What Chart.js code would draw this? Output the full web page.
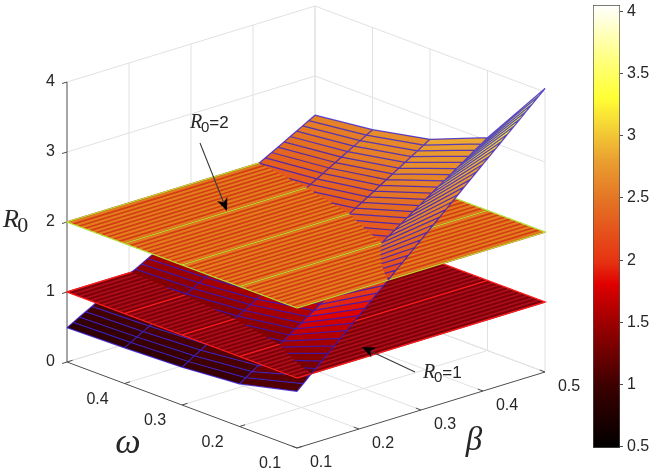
<!DOCTYPE html>
<html>
<head>
<meta charset="utf-8">
<script src="https://cdn.jsdelivr.net/npm/chart.js@4.4.1/dist/chart.umd.min.js"></script>
<style>
  html, body { margin: 0; padding: 0; background: #fff; }
  #wrap { position: relative; width: 651px; height: 474px; }
  #surf { position: absolute; left: 0; top: 0; }
  #cbar { position: absolute; left: 585px; top: 0; }
</style>
</head>
<body>
<div id="wrap">
  <canvas id="surf" width="651" height="474"></canvas>
  <canvas id="cbar" width="66" height="474"></canvas>
</div>
<script>
// grid of the surface
const omegaValues = [0.1, 0.2, 0.3, 0.4, 0.5];
const betaValues = [0.1, 0.2, 0.3, 0.4, 0.5];
// R0 along beta, one row per omega
const r0AtOmega01 = [0.81, 1.62, 2.43, 3.24, 4.05];
const r0AtOmega02 = [0.61, 1.21, 1.82, 2.43, 3.04];
const r0AtOmega03 = [0.54, 1.08, 1.62, 2.16, 2.71];
const r0AtOmega04 = [0.51, 1.01, 1.52, 2.03, 2.54];
const r0AtOmega05 = [0.49, 0.98, 1.46, 1.95, 2.44];
const r0Rows = [r0AtOmega01, r0AtOmega02, r0AtOmega03, r0AtOmega04, r0AtOmega05];

// the two flat reference planes
const planeLevels = [1, 2];

// axes
const zTicks = [0, 1, 2, 3, 4];
const zTickLabels = ['0', '1', '2', '3', '4'];
const omegaTicks = [0.1, 0.2, 0.3, 0.4, 0.5];
const omegaTickLabels = ['0.1', '0.2', '0.3', '0.4', ''];
const betaTicks = [0.1, 0.2, 0.3, 0.4, 0.5];
const betaTickLabels = ['0.1', '0.2', '0.3', '0.4', '0.5'];
const colorbarTicks = [0.5, 1, 1.5, 2, 2.5, 3, 3.5, 4];
const colorbarLabels = ['0.5', '1', '1.5', '2', '2.5', '3', '3.5', '4'];

const cMin = Math.min(...r0Rows.flat());
const cMax = Math.max(...r0Rows.flat());
const omegaMin = omegaValues[0], omegaMax = omegaValues[omegaValues.length - 1];
const betaMin = betaValues[0], betaMax = betaValues[betaValues.length - 1];
const zTop = zTicks[zTicks.length - 1];

const SANS = '"Liberation Sans", Arial, Helvetica, sans-serif';
const SERIF = '"Liberation Serif", "Times New Roman", serif';
const TEXT = '#262626';

// hot-like colormap (fraction, colour)
const hotStops = [
  [0, '#000000'], [0.14, '#3c0000'], [0.28, '#9c0000'], [0.37, '#e00000'],
  [0.42, '#e63212'], [0.56, '#e47424'], [0.65, '#eaa030'], [0.73, '#f6d636'],
  [0.79, '#ffff34'], [0.87, '#ffff78'], [1, '#ffffff']
];
const hexRgb = h => [1, 3, 5].map(k => parseInt(h.substr(k, 2), 16));
function hotColor(v) {
  const t = Math.min(1, Math.max(0, (v - cMin) / (cMax - cMin)));
  for (let k = 1; k < hotStops.length; k++) {
    if (t <= hotStops[k][0]) {
      const [t0, c0] = hotStops[k - 1], [t1, c1] = hotStops[k];
      const f = (t - t0) / (t1 - t0);
      const a = hexRgb(c0), b = hexRgb(c1);
      return 'rgb(' + a.map((x, n) => Math.round(x + (b[n] - x) * f)).join(',') + ')';
    }
  }
  return hotStops[hotStops.length - 1][1];
}
// the lit surface reads a little brighter than the bar in its middle range
const surfaceColor = z => hotColor(z + 0.35 * Math.min(1, Math.max(0, 2.8 - z)));

// oblique 3D view: omega runs to the lower right, beta to the upper right
const view = { ox: 297, oy: 448, wx: -575, wy: -215, bx: 620, by: -190, zy: -70 };
function project(p) {
  return {
    x: view.ox + (p.w - omegaMin) * view.wx + (p.b - betaMin) * view.bx,
    y: view.oy + (p.w - omegaMin) * view.wy + (p.b - betaMin) * view.by + p.z * view.zy
  };
}

function r0At(i, b) {
  const row = r0Rows[i];
  for (let j = 0; j < betaValues.length - 1; j++) {
    const b0 = betaValues[j], b1 = betaValues[j + 1];
    if (b <= b1 + 1e-9) return row[j] + (row[j + 1] - row[j]) * (b - b0) / (b1 - b0);
  }
  return row[row.length - 1];
}

// mesh lines drawn inside every cell
const MESH_SUB = 10;
function refine(vals) {
  const out = [];
  for (let j = 0; j < vals.length - 1; j++)
    for (let s = 0; s < MESH_SUB; s++) out.push(vals[j] + (vals[j + 1] - vals[j]) * s / MESH_SUB);
  out.push(vals[vals.length - 1]);
  return out;
}
const fineBeta = refine(betaValues);
const fineOmega = refine(omegaValues);

const lerp3 = (a, b, t) => ({ w: a.w + (b.w - a.w) * t, b: a.b + (b.b - a.b) * t, z: a.z + (b.z - a.z) * t });

function clipPoly(poly, lo, hi) {
  const cut = (pts, keep, level) => {
    const out = [];
    for (let k = 0; k < pts.length; k++) {
      const a = pts[k], b = pts[(k + 1) % pts.length];
      const ia = keep(a.z), ib = keep(b.z);
      if (ia) out.push(a);
      if (ia !== ib) out.push(lerp3(a, b, (level - a.z) / (b.z - a.z)));
    }
    return out;
  };
  let pts = poly;
  if (lo > -Infinity) pts = cut(pts, z => z >= lo, lo);
  if (pts.length && hi < Infinity) pts = cut(pts, z => z < hi, hi);
  return pts;
}

function clipSeg(a, b, lo, hi) {
  let t0 = 0, t1 = 1;
  const dz = b.z - a.z;
  if (Math.abs(dz) < 1e-12) {
    if (a.z < lo || a.z >= hi) return null;
  } else {
    let ta = (lo - a.z) / dz, tb = (hi - a.z) / dz;
    if (ta > tb) [ta, tb] = [tb, ta];
    t0 = Math.max(t0, ta); t1 = Math.min(t1, tb);
    if (!(t1 > t0)) return null;
  }
  return [lerp3(a, b, t0), lerp3(a, b, t1)];
}

// datasets in drawing order (first = bottom)
const layers = [];
function addPoly(pts3, color) {
  layers.push({ data: pts3.map(project), fill: 'shape', backgroundColor: color, borderWidth: 0 });
}
function addLines(paths, color, width) {
  const data = [];
  paths.forEach(path => {
    path.forEach(p => data.push(project(p)));
    data.push({ x: null, y: null });
  });
  layers.push({ data, fill: false, borderColor: color, borderWidth: width });
}

// box grid on floor and back walls
const gridPaths = [];
betaTicks.slice(1).forEach(b => {
  gridPaths.push([{ w: omegaMin, b, z: 0 }, { w: omegaMax, b, z: 0 }]);
  gridPaths.push([{ w: omegaMax, b, z: 0 }, { w: omegaMax, b, z: zTop }]);
});
omegaTicks.forEach(w => {
  if (w !== omegaMin) gridPaths.push([{ w, b: betaMin, z: 0 }, { w, b: betaMax, z: 0 }]);
  gridPaths.push([{ w, b: betaMax, z: 0 }, { w, b: betaMax, z: zTop }]);
});
zTicks.forEach(z => {
  gridPaths.push([{ w: omegaMax, b: betaMin, z }, { w: omegaMax, b: betaMax, z }, { w: omegaMin, b: betaMax, z }]);
});
addLines(gridPaths, '#e1e1e1', 1);

// axis lines and tick marks
const axisPaths = [
  [{ w: omegaMax, b: betaMin, z: 0 }, { w: omegaMax, b: betaMin, z: zTop }],
  [{ w: omegaMax, b: betaMin, z: 0 }, { w: omegaMin, b: betaMin, z: 0 }, { w: omegaMin, b: betaMax, z: 0 }]
];
zTicks.forEach(z => axisPaths.push([{ w: omegaMax, b: betaMin, z }, { w: omegaMax, b: betaMin - 0.008, z }]));
omegaTicks.forEach(w => axisPaths.push([{ w, b: betaMin, z: 0 }, { w, b: betaMin + 0.009, z: 0 }]));
betaTicks.forEach(b => axisPaths.push([{ w: omegaMin, b, z: 0 }, { w: omegaMin + 0.009, b, z: 0 }]));
addLines(axisPaths, '#4d4d4d', 1);

const planeStyles = [
  { face: '#7e0008', stripe: 'rgba(178,16,30,0.9)', edge: '#ff1e1e' },
  { face: '#e47c1e', stripe: 'rgba(208,54,18,0.9)', edge: '#b6e23a' }
];
function addPlane(level, style) {
  const corners = [
    { w: omegaMin, b: betaMin, z: level }, { w: omegaMax, b: betaMin, z: level },
    { w: omegaMax, b: betaMax, z: level }, { w: omegaMin, b: betaMax, z: level }
  ];
  addPoly(corners, style.face);
  addLines(fineOmega.map(w => [{ w, b: betaMin, z: level }, { w, b: betaMax, z: level }]), style.stripe, 1.7);
  addLines(omegaValues.slice(1, -1).map(w => [{ w, b: betaMin, z: level }, { w, b: betaMax, z: level }]), style.edge, 1.3);
  addLines([corners.concat([corners[0]])], style.edge, 1.3);
}

// surface split into height bands so the planes cover what lies below them
const bandEdges = [-Infinity, ...planeLevels, Infinity];
for (let k = 0; k < bandEdges.length - 1; k++) {
  const lo = bandEdges[k], hi = bandEdges[k + 1];
  for (let i = omegaValues.length - 2; i >= 0; i--) {
    for (let s = fineBeta.length - 2; s >= 0; s--) {
      const b0 = fineBeta[s], b1 = fineBeta[s + 1];
      const quad = [
        { w: omegaValues[i], b: b0, z: r0At(i, b0) },
        { w: omegaValues[i + 1], b: b0, z: r0At(i + 1, b0) },
        { w: omegaValues[i + 1], b: b1, z: r0At(i + 1, b1) },
        { w: omegaValues[i], b: b1, z: r0At(i, b1) }
      ];
      const zMean = quad.reduce((a, p) => a + p.z, 0) / 4;
      const part = clipPoly(quad, lo, hi);
      if (part.length >= 3) addPoly(part, surfaceColor(zMean));
    }
  }
  const segs = [];
  fineBeta.forEach(b => {
    for (let i = 0; i < omegaValues.length - 1; i++) {
      const seg = clipSeg({ w: omegaValues[i], b, z: r0At(i, b) }, { w: omegaValues[i + 1], b, z: r0At(i + 1, b) }, lo, hi);
      if (seg) segs.push(seg);
    }
  });
  omegaValues.forEach((w, i) => {
    for (let s = 0; s < fineBeta.length - 1; s++) {
      const b0 = fineBeta[s], b1 = fineBeta[s + 1];
      const seg = clipSeg({ w, b: b0, z: r0At(i, b0) }, { w, b: b1, z: r0At(i, b1) }, lo, hi);
      if (seg) segs.push(seg);
    }
  });
  addLines(segs, 'rgba(48,26,204,0.78)', 1.25);
  if (k < planeLevels.length) addPlane(planeLevels[k], planeStyles[k]);
}

function drawR0(ctx, x, y, size, subSize, subFont, tail, tailSize) {
  ctx.textAlign = 'left';
  ctx.textBaseline = 'alphabetic';
  ctx.font = 'italic ' + size + 'px ' + SERIF;
  ctx.fillText('R', x, y);
  let cx = x + ctx.measureText('R').width - size * 0.06;
  ctx.font = subSize + 'px ' + subFont;
  ctx.fillText('0', cx, y + size * 0.2);
  cx += ctx.measureText('0').width;
  if (tail) {
    ctx.font = tailSize + 'px ' + SANS;
    ctx.fillText(tail, cx, y);
  }
}

function drawArrow(ctx, x0, y0, x1, y1) {
  const ang = Math.atan2(y1 - y0, x1 - x0);
  const L = 13, W = 5.5, c = Math.cos(ang), s = Math.sin(ang);
  ctx.strokeStyle = '#3a3a3a';
  ctx.lineWidth = 1.1;
  ctx.beginPath();
  ctx.moveTo(x0, y0);
  ctx.lineTo(x1 - L * 0.7 * c, y1 - L * 0.7 * s);
  ctx.stroke();
  ctx.fillStyle = '#000';
  ctx.beginPath();
  ctx.moveTo(x1, y1);
  ctx.lineTo(x1 - L * c - W * s, y1 - L * s + W * c);
  ctx.lineTo(x1 - L * 0.7 * c, y1 - L * 0.7 * s);
  ctx.lineTo(x1 - L * c + W * s, y1 - L * s - W * c);
  ctx.closePath();
  ctx.fill();
}

const labels3d = {
  id: 'labels3d',
  afterDatasetsDraw(chart) {
    const { ctx } = chart;
    const xs = chart.scales.x, ys = chart.scales.y;
    const pix = p => { const q = project(p); return { x: xs.getPixelForValue(q.x), y: ys.getPixelForValue(q.y) }; };
    ctx.save();
    ctx.fillStyle = TEXT;
    ctx.font = '16px ' + SANS;
    ctx.textBaseline = 'middle';
    ctx.textAlign = 'right';
    zTicks.forEach((z, k) => {
      const p = pix({ w: omegaMax, b: betaMin, z });
      ctx.fillText(zTickLabels[k], p.x - 12, p.y);
    });
    ctx.textAlign = 'center';
    omegaTicks.forEach((w, k) => {
      const p = pix({ w, b: betaMin, z: 0 });
      ctx.fillText(omegaTickLabels[k], p.x - 27, p.y + 16);
    });
    betaTicks.forEach((b, k) => {
      const p = pix({ w: omegaMin, b, z: 0 });
      ctx.fillText(betaTickLabels[k], p.x + 24, p.y + 15);
    });

    // axis titles
    ctx.textBaseline = 'alphabetic';
    ctx.font = 'italic 36px ' + SERIF;
    ctx.fillText('\u03c9', 128, 453);
    ctx.font = 'italic 33px ' + SERIF;
    ctx.fillText('\u03b2', 474, 450);
    drawR0(ctx, 3, 227, 26, 22, SERIF, '', 0);

    // annotations
    drawR0(ctx, 190, 128, 20, 15, SANS, '=2', 17);
    drawArrow(ctx, 200, 143, 227, 211);
    ctx.fillStyle = TEXT;
    drawR0(ctx, 423, 378, 20, 15, SANS, '=1', 17);
    drawArrow(ctx, 415, 372, 362, 347);
    ctx.restore();
  }
};

Chart.defaults.font.family = SANS;

new Chart(document.getElementById('surf'), {
  type: 'line',
  data: {
    datasets: layers.map((d, k) => Object.assign({
      showLine: true, pointRadius: 0, pointHoverRadius: 0, tension: 0,
      spanGaps: false, clip: false, order: layers.length - k
    }, d))
  },
  options: {
    responsive: false,
    animation: false,
    events: [],
    layout: { padding: 0 },
    plugins: { legend: { display: false }, tooltip: { enabled: false } },
    scales: {
      x: { type: 'linear', min: 0, max: 651, display: false },
      y: { type: 'linear', min: 0, max: 474, reverse: true, display: false }
    }
  },
  plugins: [labels3d]
});

// colorbar
new Chart(document.getElementById('cbar'), {
  type: 'bar',
  data: {
    labels: ['R0'],
    datasets: [{
      data: [[cMin, cMax]],
      backgroundColor: c => {
        const chart = c.chart;
        if (!chart.chartArea) return '#000';
        const y = chart.scales.y;
        const g = chart.ctx.createLinearGradient(0, y.getPixelForValue(cMin), 0, y.getPixelForValue(cMax));
        hotStops.forEach(([t, col]) => g.addColorStop(t, col));
        return g;
      },
      borderColor: '#4d4d4d',
      borderWidth: 1,
      borderSkipped: false,
      barPercentage: 1,
      categoryPercentage: 1
    }]
  },
  options: {
    responsive: false,
    animation: false,
    events: [],
    layout: { padding: { left: 8, top: 5, bottom: 26, right: 0 } },
    plugins: { legend: { display: false }, tooltip: { enabled: false } },
    scales: {
      x: { display: false },
      y: {
        position: 'right',
        min: cMin,
        max: cMax,
        afterBuildTicks: s => { s.ticks = colorbarTicks.map(v => ({ value: v })); },
        afterFit: s => { s.width = 31; s.paddingTop = 0; s.paddingBottom = 0; },
        border: { display: false },
        grid: { drawOnChartArea: false, tickLength: 3, color: '#4d4d4d' },
        ticks: {
          color: TEXT,
          padding: 4,
          font: { size: 16, family: SANS },
          callback: (v) => colorbarLabels[colorbarTicks.indexOf(v)]
        }
      }
    }
  }
});
</script>
</body>
</html>
